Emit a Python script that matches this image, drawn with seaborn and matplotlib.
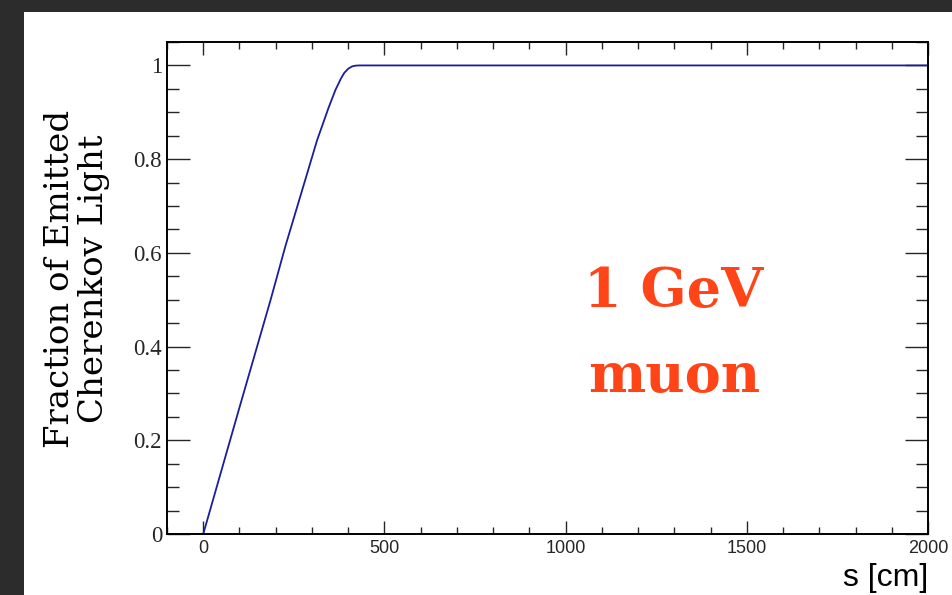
import matplotlib
matplotlib.use("Agg")
import matplotlib.pyplot as plt
from matplotlib.patches import Rectangle
from matplotlib.ticker import MultipleLocator, FormatStrFormatter
import seaborn as sns
import pandas as pd

# Data (path length s [cm] vs fraction of emitted light)
s_cm = [-100, 0, 50, 100, 186, 227, 287, 314, 346, 365, 380, 389, 400, 411, 420, 430, 2000]
fraction = [0.0, 0.0, 0.135, 0.27, 0.50, 0.615, 0.77, 0.84, 0.91, 0.948, 0.972, 0.984, 0.993, 0.998, 0.9995, 1.0, 1.0]
x_ticks = [0, 500, 1000, 1500, 2000]
y_ticks = [0, 0.2, 0.4, 0.6, 0.8, 1]

df = pd.DataFrame({"s": s_cm, "frac": fraction})

sns.set_style("ticks")
fig = plt.figure(figsize=(9.52, 5.95), dpi=100)
fig.patch.set_facecolor("#2c2c2c")
fig.patches.append(Rectangle((24 / 952, 0), 1 - 24 / 952, 1 - 12 / 595,
                             transform=fig.transFigure, facecolor="white",
                             edgecolor="none", zorder=-10))

ax = fig.add_axes([167 / 952, 1 - 534 / 595, (928 - 167) / 952, (534 - 42) / 595])
ax.set_zorder(5)
ax.set_facecolor("white")

sns.lineplot(data=df, x="s", y="frac", ax=ax, color="#1c1c9c", linewidth=1.3,
             estimator=None, sort=False)

ax.set_xlim(-100, 2000)
ax.set_ylim(0, 1.05)
ax.set_xticks(x_ticks)
ax.set_yticks(y_ticks)
ax.xaxis.set_minor_locator(MultipleLocator(100))
ax.yaxis.set_minor_locator(MultipleLocator(0.05))
ax.yaxis.set_major_formatter(FormatStrFormatter("%g"))

for sp in ax.spines.values():
    sp.set_visible(True)
    sp.set_linewidth(1.4)
    sp.set_color("black")

ax.tick_params(axis="x", which="major", direction="in", length=9.4, width=1.0,
               top=True, bottom=True, pad=4.3, labelsize=13)
ax.tick_params(axis="x", which="minor", direction="in", length=4.7, width=1.0,
               top=True, bottom=True)
ax.tick_params(axis="y", which="major", direction="in", length=16.6, width=1.0,
               left=True, right=True, pad=3.6, labelsize=16.5)
ax.tick_params(axis="y", which="minor", direction="in", length=8.6, width=1.0,
               left=True, right=True)
for lab in ax.get_xticklabels():
    lab.set_family("Liberation Sans")
for lab in ax.get_yticklabels():
    lab.set_family("Liberation Serif")

ax.set_xlabel("")
ax.set_ylabel("")

fig.text(928 / 952, 1 - 578 / 595, "s [cm]", ha="right", va="center",
         fontsize=23, family="Liberation Sans", color="black")
fig.text(77 / 952, 1 - 279 / 595, "Fraction of Emitted\nCherenkov Light",
         rotation=90, ha="center", va="center", ma="center",
         fontsize=24.5, family="DejaVu Serif", linespacing=1.1, color="black")

ax.text(0.666, 0.405, "1 GeV\nmuon", transform=ax.transAxes,
        ha="center", va="center", ma="center", fontsize=39,
        fontweight="bold", family="DejaVu Serif", color="#ff4518",
        linespacing=1.8)

fig.savefig("out.png", dpi=100, facecolor=fig.get_facecolor())
